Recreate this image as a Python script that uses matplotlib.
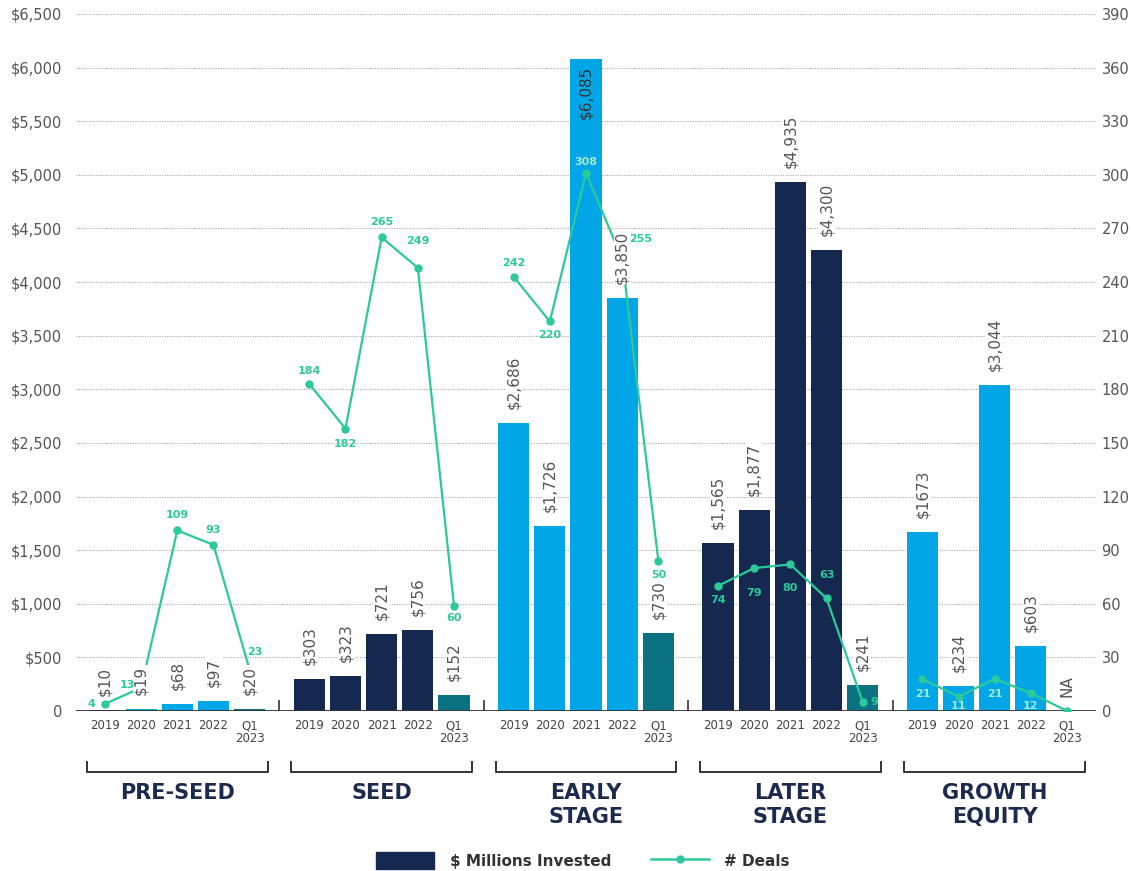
import numpy as np
import matplotlib.pyplot as plt
from matplotlib.patches import Patch
from matplotlib.lines import Line2D
from matplotlib.transforms import blended_transform_factory

# --- data ---
stages = ["PRE-SEED", "SEED", "EARLY\nSTAGE", "LATER\nSTAGE", "GROWTH\nEQUITY"]
periods = ["2019", "2020", "2021", "2022", "Q1\n2023"]

# $ millions invested, one list per stage
invested = [
    [10, 19, 68, 97, 20],
    [303, 323, 721, 756, 152],
    [2686, 1726, 6085, 3850, 730],
    [1565, 1877, 4935, 4300, 241],
    [1673, 234, 3044, 603, np.nan],
]
invested_text = [
    ["$10", "$19", "$68", "$97", "$20"],
    ["$303", "$323", "$721", "$756", "$152"],
    ["$2,686", "$1,726", "$6,085", "$3,850", "$730"],
    ["$1,565", "$1,877", "$4,935", "$4,300", "$241"],
    ["$1673", "$234", "$3,044", "$603", "NA"],
]

# number of deals, as plotted on the right axis
deals = [
    [4, 13, 101, 93, 23],
    [183, 158, 265, 248, 59],
    [243, 218, 301, 253, 84],
    [70, 80, 82, 63, 5],
    [18, 8, 18, 10, 0],
]
deal_text = [
    ["4", "13", "109", "93", "23"],
    ["184", "182", "265", "249", "60"],
    ["242", "220", "308", "255", "50"],
    ["74", "79", "80", "63", "9"],
    ["21", "11", "21", "12", ""],
]

# --- styling ---
NAVY = "#15284f"
BLUE = "#00a6e6"
TEAL = "#0a7280"
GREEN = "#2cc99a"
PALE = "#9fe9d6"
GREY = "#555555"

bar_colors = [
    [NAVY, BLUE, BLUE, BLUE, TEAL],
    [NAVY, NAVY, NAVY, NAVY, TEAL],
    [BLUE, BLUE, BLUE, BLUE, TEAL],
    [NAVY, NAVY, NAVY, NAVY, TEAL],
    [BLUE, BLUE, BLUE, BLUE, NAVY],
]
# label offsets (points) for the deal counts
deal_offsets = [
    [(-10, 0), (-10, 2), (0, 11), (0, 11), (4, 13)],
    [(0, 9), (0, -11), (0, 11), (0, 19), (0, -9)],
    [(0, 10), (0, -10), (0, 8), (13, 14), (0, -10)],
    [(0, -10), (0, -18), (0, -17), (0, 17), (8, 0)],
    [(0, -11), (0, -7), (0, -11), (0, -9), (0, 0)],
]
pale_labels = {(2, 2), (4, 0), (4, 1), (4, 2), (4, 3)}

STEP = 5.65
W = 0.86

fig = plt.figure(figsize=(11.32, 8.71), dpi=100)
ax = fig.add_axes([76 / 1132, 1 - 711 / 871, (1096 - 76) / 1132, 697 / 871])
ax2 = ax.twinx()

xticks = []
for g in range(len(stages)):
    xs = g * STEP + np.arange(5)
    xticks.extend(xs)
    vals = np.nan_to_num(np.array(invested[g], dtype=float))
    ax.bar(xs, vals, width=W, color=bar_colors[g], zorder=2)

    ax2.plot(xs, deals[g], color=GREEN, lw=1.6, marker="o", ms=5, zorder=2)

    for i, x in enumerate(xs):
        v = vals[i]
        if v > 6000:
            ax2.annotate(invested_text[g][i], xy=(x, v), xycoords=ax.transData,
                         xytext=(0, -5), textcoords="offset points", rotation=90,
                         ha="center", va="top", fontsize=11, color="#333333",
                         zorder=3)
        else:
            ax2.annotate(invested_text[g][i], xy=(x, v), xycoords=ax.transData,
                         xytext=(0, 10), textcoords="offset points", rotation=90,
                         ha="center", va="bottom", fontsize=11, color=GREY,
                         bbox=dict(boxstyle="square,pad=0.05", fc="white", ec="none"),
                         zorder=3)
        if deal_text[g][i]:
            c = PALE if (g, i) in pale_labels else GREEN
            ax2.annotate(deal_text[g][i], xy=(x, deals[g][i]),
                         xytext=deal_offsets[g][i], textcoords="offset points",
                         ha="center", va="center", fontsize=8, fontweight="bold",
                         color=c, zorder=4)

# axes limits and ticks
ax.set_xlim(-0.8, 4 * STEP + 4 + 0.8)
ax.set_ylim(0, 6500)
ax2.set_ylim(0, 390)
ax.set_yticks(np.arange(0, 6501, 500))
ax.set_yticklabels(["0" if v == 0 else f"${v:,.0f}" for v in np.arange(0, 6501, 500)])
ax2.set_yticks(np.arange(0, 391, 30))

ax.set_xticks(xticks)
ax.set_xticklabels(periods * len(stages), va="top", linespacing=1.0)
ax.set_xticks([g * STEP - 0.825 for g in range(1, len(stages))], minor=True)
ax.tick_params(axis="x", which="major", length=0, pad=6, labelsize=8.5, labelcolor="#444444")
ax.tick_params(axis="x", which="minor", direction="in", length=8, width=1.2, color="#333333")
ax.tick_params(axis="y", length=0, pad=10, labelsize=10.5, labelcolor=GREY)
ax2.tick_params(axis="y", length=0, pad=4, labelsize=10.5, labelcolor=GREY)

ax.yaxis.grid(True, color="#aaaaaa", linestyle=(0, (1, 1.2)), linewidth=0.8)
ax.set_axisbelow(True)
ax.axhline(0, color="#333333", lw=1.3, zorder=3)
for a in (ax, ax2):
    for s in a.spines.values():
        s.set_visible(False)

# brackets and stage names under the axis
trans = blended_transform_factory(ax.transData, ax.transAxes)
for g, name in enumerate(stages):
    x0, x1 = g * STEP - 0.5, g * STEP + 4.5
    ax.plot([x0, x0, x1, x1], [-0.073, -0.0875, -0.0875, -0.073], transform=trans,
            color="#333333", lw=1.4, clip_on=False)
    ax.text(g * STEP + 2, -0.103, name, transform=trans, ha="center", va="top",
            fontsize=15, fontweight="bold", color="#1c2b4d", linespacing=1.25)

handles = [Patch(color=NAVY),
           Line2D([], [], color=GREEN, lw=1.8, marker="o", ms=5)]
fig.legend(handles, ["$ Millions Invested", "# Deals"], loc="center",
           bbox_to_anchor=(0.515, 0.012), ncol=2, frameon=False,
           prop={"size": 11, "weight": "bold"}, handlelength=3.8, handleheight=1.3,
           columnspacing=2.6, handletextpad=1.0, labelcolor="#333333")

fig.savefig("out.png", dpi=100)
